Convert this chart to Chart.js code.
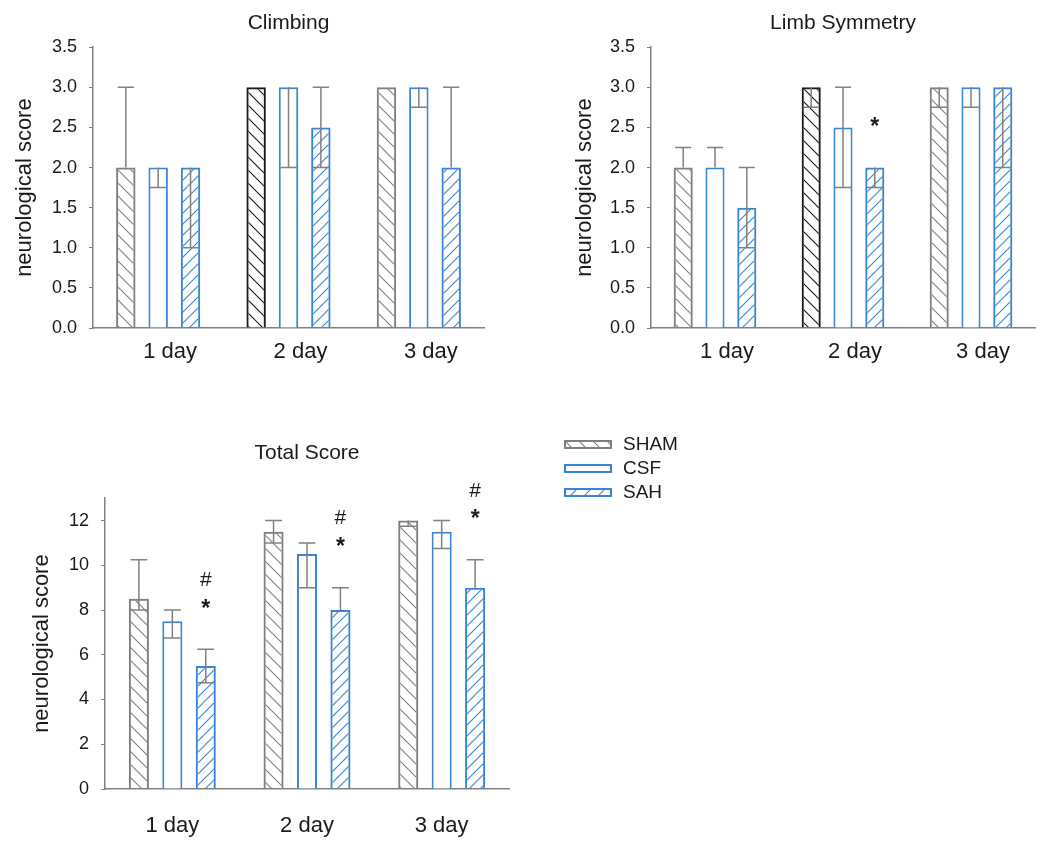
<!DOCTYPE html>
<html>
<head>
<meta charset="utf-8">
<script src="https://cdn.jsdelivr.net/npm/chart.js@4.4.1/dist/chart.umd.min.js"></script>
<style>
body { margin: 0; background: #fff; font-family: "Liberation Sans", Arial, sans-serif; }
#wrap { position: relative; width: 1052px; height: 841px; }
#wrap canvas { position: absolute; }
#legend { position: absolute; left: 564px; top: 432px; }
.row { display: flex; align-items: center; height: 24px; }
.row canvas { position: static !important; margin-right: 11px; }
.row span { font-size: 19px; color: #1a1a1a; }
</style>
</head>
<body>
<div id="wrap">
  <canvas id="climb" width="520" height="380" style="left:0;top:0"></canvas>
  <canvas id="limb" width="532" height="380" style="left:520px;top:0"></canvas>
  <canvas id="total" width="540" height="441" style="left:0;top:400px"></canvas>
  <div id="legend"></div>
</div>
<script>
var days = ["1 day", "2 day", "3 day"];
var groups = ["SHAM", "CSF", "SAH"];

// Climbing
var climb_sham = [2, 3, 3];
var climb_sham_lo = [2, 3, 3];
var climb_sham_hi = [3, 3, 3];
var climb_csf = [2, 3, 3];
var climb_csf_lo = [1.75, 2, 2.75];
var climb_csf_hi = [2, 3, 3];
var climb_sah = [2, 2.5, 2];
var climb_sah_lo = [1, 2, 2];
var climb_sah_hi = [2, 3, 3];

// Limb Symmetry
var limb_sham = [2, 3, 3];
var limb_sham_lo = [2, 2.75, 2.75];
var limb_sham_hi = [2.25, 3, 3];
var limb_csf = [2, 2.5, 3];
var limb_csf_lo = [2, 1.75, 2.75];
var limb_csf_hi = [2.25, 3, 3];
var limb_sah = [1.5, 2, 3];
var limb_sah_lo = [1, 1.75, 2];
var limb_sah_hi = [2, 2, 3];
var limb_sah_marks = ["", "*", ""];

// Total Score
var total_sham = [8.5, 11.5, 12];
var total_sham_lo = [8, 11, 11.75];
var total_sham_hi = [10.25, 12, 12];
var total_csf = [7.5, 10.5, 11.5];
var total_csf_lo = [6.75, 9, 10.75];
var total_csf_hi = [8, 11, 12];
var total_sah = [5.5, 8, 9];
var total_sah_lo = [4.75, 8, 9];
var total_sah_hi = [6.25, 9, 10.25];
var total_sah_marks = ["*#", "*#", "*#"];

var GREY = "#7f7f7f";
var DARK = "#1a1a1a";
var BLUE = "#3a84d8";

Chart.defaults.font.family = '"Liberation Sans", Arial, sans-serif';
Chart.defaults.color = DARK;

function hatch(color, dir, size) {
    var c = document.createElement("canvas");
    c.width = size;
    c.height = size;
    var g = c.getContext("2d");
    g.strokeStyle = color;
    g.lineWidth = 1.1;
    g.beginPath();
    if (dir == "/") {
        g.moveTo(-1, size + 1); g.lineTo(size + 1, -1);
        g.moveTo(-1, 1); g.lineTo(1, -1);
        g.moveTo(size - 1, size + 1); g.lineTo(size + 1, size - 1);
    } else {
        g.moveTo(-1, -1); g.lineTo(size + 1, size + 1);
        g.moveTo(size - 1, -1); g.lineTo(size + 1, 1);
        g.moveTo(-1, size - 1); g.lineTo(1, size + 1);
    }
    g.stroke();
    return g.createPattern(c, "repeat");
}

var errorBars = {
    id: "errorBars",
    afterDatasetsDraw: function(chart) {
        var ctx = chart.ctx;
        var y = chart.scales.y;
        chart.data.datasets.forEach(function(ds, di) {
            var meta = chart.getDatasetMeta(di);
            meta.data.forEach(function(bar, i) {
                var v = ds.data[i], lo = ds.errLo[i], hi = ds.errHi[i];
                if (lo === hi) return;
                var yLo = y.getPixelForValue(lo), yHi = y.getPixelForValue(hi);
                var half = bar.width * 0.42;
                ctx.save();
                ctx.strokeStyle = "#808080";
                ctx.lineWidth = 1.5;
                ctx.beginPath();
                ctx.moveTo(bar.x, yLo);
                ctx.lineTo(bar.x, yHi);
                if (hi !== v) { ctx.moveTo(bar.x - half, yHi); ctx.lineTo(bar.x + half, yHi); }
                if (lo !== v) { ctx.moveTo(bar.x - half, yLo); ctx.lineTo(bar.x + half, yLo); }
                ctx.stroke();
                ctx.restore();
            });
        });
    }
};

var sigMarks = {
    id: "sigMarks",
    afterDatasetsDraw: function(chart) {
        var ctx = chart.ctx;
        var y = chart.scales.y;
        chart.data.datasets.forEach(function(ds, di) {
            if (!ds.marks) return;
            var meta = chart.getDatasetMeta(di);
            meta.data.forEach(function(bar, i) {
                var m = ds.marks[i];
                if (!m) return;
                var top = y.getPixelForValue(ds.errHi[i]);
                ctx.save();
                ctx.fillStyle = DARK;
                ctx.textAlign = "center";
                ctx.textBaseline = "middle";
                for (var k = 0; k < m.length; k++) {
                    // the star is drawn a bit heavier, as in the figure
                    ctx.font = (m[k] == "*" ? "bold 23px " : "21px ") + Chart.defaults.font.family;
                    ctx.fillText(m[k], bar.x, top - 40 - k * 29);
                }
                ctx.restore();
            });
        });
    }
};

function makeDatasets(sham, shamLo, shamHi, shamEdge, csf, csfLo, csfHi, sah, sahLo, sahHi, sahMarks) {
    return [{
            label: groups[0],
            data: sham,
            errLo: shamLo,
            errHi: shamHi,
            backgroundColor: shamEdge.map(function(c) { return hatch(c, "\\", 13); }),
            borderColor: shamEdge,
            borderWidth: 2,
        },
        {
            label: groups[1],
            data: csf,
            errLo: csfLo,
            errHi: csfHi,
            backgroundColor: "#ffffff",
            borderColor: BLUE,
            borderWidth: 2,
        },
        {
            label: groups[2],
            data: sah,
            errLo: sahLo,
            errHi: sahHi,
            marks: sahMarks,
            backgroundColor: hatch(BLUE, "/", 11),
            borderColor: BLUE,
            borderWidth: 2,
        },
    ];
}

function makeOptions(title, yMax, yStep, decimals, pad, axisTitlePad, titlePad, labelPad, labelOffset) {
    return {
        responsive: false,
        animation: false,
        datasets: { bar: { categoryPercentage: 0.745, barPercentage: 0.6 } },
        layout: { padding: pad },
        plugins: {
            legend: { display: false },
            tooltip: { enabled: false },
            title: {
                display: true,
                text: title,
                fullSize: false,
                font: { size: 21, weight: "normal" },
                color: DARK,
                padding: titlePad,
            },
        },
        scales: {
            x: {
                grid: { display: false, drawTicks: false },
                border: { color: "#808080", width: 1.5 },
                ticks: { font: { size: 22 }, color: DARK, padding: labelPad, labelOffset: labelOffset },
                afterFit: function(axis) { axis.height = 52; },
            },
            y: {
                min: 0,
                max: yMax,
                grid: { drawOnChartArea: false, drawTicks: true, tickLength: 4, color: "#808080", lineWidth: 1 },
                border: { color: "#808080", width: 1.5 },
                ticks: {
                    stepSize: yStep,
                    includeBounds: false,
                    font: { size: 18 },
                    color: DARK,
                    padding: 12,
                    callback: function(v) { return v.toFixed(decimals); },
                },
                title: {
                    display: true,
                    text: "neurological score",
                    font: { size: 22 },
                    color: DARK,
                    padding: { top: axisTitlePad, bottom: 0 },
                },
                afterFit: function(axis) { axis.width = 93; },
            },
        },
    };
}

new Chart(document.getElementById("climb").getContext("2d"), {
    type: "bar",
    data: {
        labels: days,
        datasets: makeDatasets(climb_sham, climb_sham_lo, climb_sham_hi, [GREY, DARK, GREY],
            climb_csf, climb_csf_lo, climb_csf_hi,
            climb_sah, climb_sah_lo, climb_sah_hi, null),
    },
    options: makeOptions("Climbing", 3.5, 0.5, 1, { left: 0, right: 36, top: 0, bottom: 0 }, 12, { top: 11, bottom: 11 }, 11, 12),
    plugins: [errorBars, sigMarks],
});

new Chart(document.getElementById("limb").getContext("2d"), {
    type: "bar",
    data: {
        labels: days,
        datasets: makeDatasets(limb_sham, limb_sham_lo, limb_sham_hi, [GREY, DARK, GREY],
            limb_csf, limb_csf_lo, limb_csf_hi,
            limb_sah, limb_sah_lo, limb_sah_hi, limb_sah_marks),
    },
    options: makeOptions("Limb Symmetry", 3.5, 0.5, 1, { left: 38, right: 17, top: 0, bottom: 0 }, 14, { top: 11, bottom: 11 }, 11, 12),
    plugins: [errorBars, sigMarks],
});

new Chart(document.getElementById("total").getContext("2d"), {
    type: "bar",
    data: {
        labels: days,
        datasets: makeDatasets(total_sham, total_sham_lo, total_sham_hi, [GREY, GREY, GREY],
            total_csf, total_csf_lo, total_csf_hi,
            total_sah, total_sah_lo, total_sah_hi, total_sah_marks),
    },
    options: makeOptions("Total Score", 13, 2, 0, { left: 12, right: 31, top: 0, bottom: 0 }, 17, { top: 41, bottom: 32 }, 24, 0),
    plugins: [errorBars, sigMarks],
});

// legend
var legendStyles = [
    { edge: GREY, fill: hatch(GREY, "\\", 14) },
    { edge: BLUE, fill: "#ffffff" },
    { edge: BLUE, fill: hatch(BLUE, "/", 14) },
];
var legend = document.getElementById("legend");
groups.forEach(function(name, i) {
    var row = document.createElement("div");
    row.className = "row";
    var sw = document.createElement("canvas");
    sw.width = 48;
    sw.height = 9;
    var g = sw.getContext("2d");
    g.fillStyle = legendStyles[i].fill;
    g.fillRect(0, 0, 48, 9);
    g.strokeStyle = legendStyles[i].edge;
    g.lineWidth = 2;
    g.strokeRect(1, 1, 46, 7);
    var label = document.createElement("span");
    label.textContent = name;
    row.appendChild(sw);
    row.appendChild(label);
    legend.appendChild(row);
});
</script>
</body>
</html>
